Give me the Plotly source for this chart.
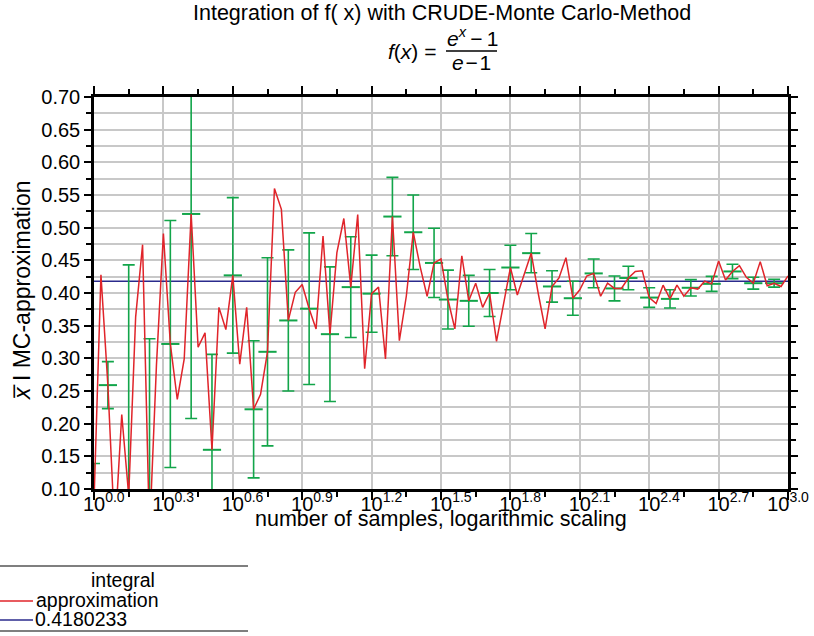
import plotly.graph_objects as go

# ---- data ----
log10_samples = [0.00,0.03,0.06,0.09,0.12,0.15,0.18,0.21,0.24,0.27,
                 0.30,0.33,0.36,0.39,0.42,0.45,0.48,0.51,0.54,0.57,
                 0.60,0.63,0.66,0.69,0.72,0.75,0.78,0.81,0.84,0.87,
                 0.90,0.93,0.96,0.99,1.02,1.05,1.08,1.11,1.14,1.17,
                 1.20,1.23,1.26,1.29,1.32,1.35,1.38,1.41,1.44,1.47,
                 1.50,1.53,1.56,1.59,1.62,1.65,1.68,1.71,1.74,1.77,
                 1.80,1.83,1.86,1.89,1.92,1.95,1.98,2.01,2.04,2.07,
                 2.10,2.13,2.16,2.19,2.22,2.25,2.28,2.31,2.34,2.37,
                 2.40,2.43,2.46,2.49,2.52,2.55,2.58,2.61,2.64,2.67,
                 2.70,2.73,2.76,2.79,2.82,2.85,2.88,2.91,2.94,2.97,3.00]

approximation = [0.080,0.428,0.259,0.030,0.214,0.090,0.363,0.474,0.030,0.290,
                 0.491,0.322,0.237,0.299,0.521,0.317,0.339,0.160,0.378,0.344,
                 0.427,0.291,0.378,0.222,0.245,0.310,0.560,0.528,0.358,0.401,
                 0.413,0.376,0.345,0.487,0.337,0.462,0.514,0.409,0.520,0.284,
                 0.399,0.409,0.299,0.517,0.327,0.395,0.493,0.440,0.395,0.446,
                 0.452,0.390,0.345,0.457,0.388,0.415,0.378,0.400,0.326,0.383,
                 0.439,0.397,0.430,0.461,0.400,0.345,0.410,0.423,0.454,0.392,
                 0.405,0.426,0.430,0.395,0.415,0.407,0.407,0.423,0.433,0.434,
                 0.393,0.384,0.412,0.391,0.412,0.395,0.408,0.406,0.418,0.414,
                 0.449,0.420,0.433,0.442,0.424,0.415,0.448,0.411,0.415,0.410,0.426]

errorbar_index = [0, 2, 5, 8, 11, 14, 17, 20, 23, 25, 28, 31, 34, 37, 40, 43, 46, 49,
                  51, 54, 57, 60, 63, 66, 69, 72, 75, 77, 80, 83, 86, 89, 92, 95, 98]
errorbar_size = [0.059, 0.036, 0.353, 0.300, 0.189, 0.313, 0.146, 0.119, 0.105, 0.144,
                 0.108, 0.116, 0.103, 0.077, 0.059, 0.060, 0.057, 0.053, 0.045, 0.039,
                 0.036, 0.034, 0.030, 0.024, 0.026, 0.022, 0.019, 0.018, 0.015, 0.014,
                 0.0125, 0.0115, 0.011, 0.009, 0.006]

integral_value = 0.4180233
integral_label = "0.4180233"

x_tick_exponents = [0.0, 0.3, 0.6, 0.9, 1.2, 1.5, 1.8, 2.1, 2.4, 2.7, 3.0]
x_minor_exponents = [0.15, 0.45, 0.75, 1.05, 1.35, 1.65, 1.95, 2.25, 2.55, 2.85]

# ---- derived ----
samples = [10 ** e for e in log10_samples]
err_x = [samples[i] for i in errorbar_index]
err_y = [approximation[i] for i in errorbar_index]
tickvals = [10 ** e for e in x_tick_exponents]
# the base "10" sits on the tick (superscript hangs to the right); the last label is kept inside
PAD = "<sup>\u2007\u2008\u2007</sup>"
ticktext = [(PAD if e < 3.0 else "") + "10<sup>%.1f</sup>" % e for e in x_tick_exponents]
minorvals = [10 ** e for e in x_minor_exponents]

FONT = "Liberation Sans, Arial, Helvetica, sans-serif"
RED = "#e0242a"
GREEN = "#12a54a"
BLUE = "#2b2b8c"

W, H = 814, 636
L, R, T, B = 94, 26, 97, 147
PW, PH = W - L - R, H - T - B

def px(xp):
    return (xp - L) / PW

def py(yp):
    return (H - B - yp) / PH

fig = go.Figure()

fig.add_trace(go.Scatter(
    x=[samples[0], samples[-1]], y=[integral_value, integral_value],
    mode="lines", line=dict(color=BLUE, width=1.5), name=integral_label,
    showlegend=False))

fig.add_trace(go.Scatter(
    x=err_x, y=err_y, mode="markers",
    marker=dict(symbol="line-ew-open", size=13, color=GREEN,
                line=dict(color=GREEN, width=2)),
    error_y=dict(type="data", array=errorbar_size, visible=True,
                 color=GREEN, thickness=1.6, width=6),
    showlegend=False))

fig.add_trace(go.Scatter(
    x=samples, y=approximation, mode="lines",
    line=dict(color=RED, width=1.5), name="approximation",
    showlegend=False))

axis_common = dict(
    showline=True, linecolor="black", linewidth=2.5, mirror="allticks",
    ticks="outside", tickcolor="black", tickwidth=2,
    tickfont=dict(family=FONT, size=20, color="black"),
    gridcolor="#c8c8c8", gridwidth=1.5, zeroline=False,
)

fig.update_xaxes(
    type="log", range=[0, 3], tickmode="array", tickvals=tickvals,
    ticktext=ticktext, ticklen=8, showgrid=True, ticklabelstandoff=-13,
    minor=dict(tickmode="array", tickvals=minorvals, ticklen=5,
               tickcolor="black", tickwidth=2, ticks="outside", showgrid=False),
    **axis_common)

fig.update_yaxes(
    range=[0.10, 0.70], dtick=0.05, tick0=0.10, tickformat=".2f",
    ticklen=7, showgrid=True,
    minor=dict(dtick=0.025, ticklen=5, tickcolor="black", tickwidth=2,
               ticks="outside", showgrid=True, gridcolor="#c8c8c8", gridwidth=1.5),
    **axis_common)

annotations = [
    dict(text="Integration of f( x) with CRUDE-Monte Carlo-Method",
         x=px(442), y=py(13), font=dict(size=21.5)),
    dict(text="<i>f</i>(<i>x</i>) =", x=px(438), y=py(51), xanchor="right", font=dict(size=21)),
    dict(text="<i>e<sup>x</sup></i>\u2009\u2212\u20091", x=px(472), y=py(37), font=dict(size=21)),
    dict(text="<i>e</i>\u200a\u2212\u200a1", x=px(471), y=py(63), font=dict(size=21)),
    dict(text="number of samples, logarithmic scaling", x=px(441), y=py(519), font=dict(size=21.5)),
    dict(text="<i>x\u0305</i> I MC-approximation", x=px(22), y=py(290), textangle=-90,
         font=dict(size=23)),
    # legend
    dict(text="integral", x=px(123), y=py(580), font=dict(size=19.5)),
    dict(text="approximation", x=px(34), y=py(600), xanchor="left", font=dict(size=19.5)),
    dict(text=integral_label, x=px(33), y=py(619), xanchor="left", font=dict(size=19.5)),
]
for a in annotations:
    a.setdefault("xanchor", "center")
    a.update(xref="paper", yref="paper", yanchor="middle", showarrow=False)
    a["font"].update(family=FONT, color="black")

shapes = [
    dict(type="line", xref="paper", yref="paper", x0=px(446), x1=px(497),
         y0=py(51), y1=py(51), line=dict(color="black", width=1.5)),
    dict(type="line", xref="paper", yref="paper", x0=px(0), x1=px(248),
         y0=py(566), y1=py(566), line=dict(color="#555555", width=1.5)),
    dict(type="line", xref="paper", yref="paper", x0=px(0), x1=px(248),
         y0=py(631), y1=py(631), line=dict(color="#555555", width=1.5)),
    dict(type="line", xref="paper", yref="paper", x0=px(0), x1=px(33),
         y0=py(601), y1=py(601), line=dict(color=RED, width=1.5)),
    dict(type="line", xref="paper", yref="paper", x0=px(0), x1=px(33),
         y0=py(620), y1=py(620), line=dict(color=BLUE, width=1.5)),
]

fig.update_layout(
    width=W, height=H, margin=dict(l=L, r=R, t=T, b=B, autoexpand=False),
    paper_bgcolor="white", plot_bgcolor="white",
    font=dict(family=FONT, size=19, color="black"),
    annotations=annotations, shapes=shapes,
    showlegend=False,
)

fig.write_html("out.html", config={"displayModeBar": False},
               post_script="document.body.style.margin='0';document.body.style.padding='0';")
